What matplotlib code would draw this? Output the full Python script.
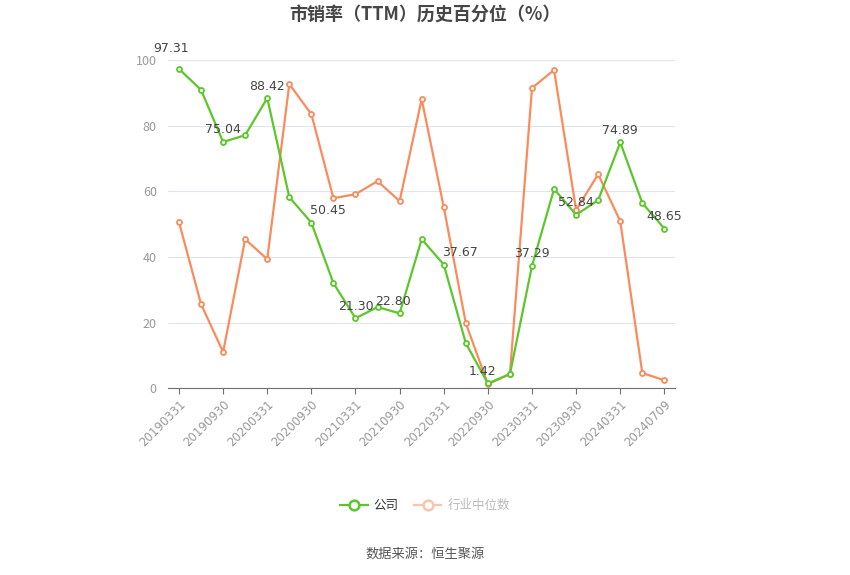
import numpy as np
import matplotlib
matplotlib.use("Agg")
import matplotlib.pyplot as plt
from matplotlib.lines import Line2D

plt.rcParams['font.family'] = ['Noto Sans CJK SC', 'DejaVu Sans']

# data
dates = ["20190331", "20190630", "20190930", "20191231", "20200331", "20200630",
         "20200930", "20201231", "20210331", "20210630", "20210930", "20211231",
         "20220331", "20220630", "20220930", "20221231", "20230331", "20230630",
         "20230930", "20231231", "20240331", "20240630", "20240709"]
company = [97.31, 90.9, 75.04, 77.1, 88.42, 58.2, 50.45, 32.0, 21.30, 24.7, 22.80,
           45.4, 37.67, 13.7, 1.42, 4.3, 37.29, 60.7, 52.84, 57.3, 74.89, 56.4, 48.65]
industry = [50.6, 25.6, 11.0, 45.4, 39.3, 92.7, 83.5, 57.9, 59.1, 63.1, 57.0, 88.1,
            55.2, 19.8, 1.2, 4.3, 91.5, 97.0, 54.3, 65.2, 50.9, 4.6, 2.4]
tick_idx = [0, 2, 4, 6, 8, 10, 12, 14, 16, 18, 20, 22]
label_idx = [0, 2, 4, 6, 8, 10, 12, 14, 16, 18, 20, 22]
# small label nudges (points) to mimic label placement in the original
label_dx = {0: -6, 6: 12, 10: -5, 12: 12, 14: -4}
label_dy = {0: 10}

green = '#5BC72B'
orange = '#FA8B5C'

fig = plt.figure(figsize=(8.5, 5.75), dpi=100)
ax = fig.add_axes([0.1976, 0.325, 0.597, 0.5705])

x = np.arange(len(dates))
ax.plot(x, industry, color=orange, lw=1.6, marker='o', markersize=3.6,
        markerfacecolor='white', markeredgewidth=1.3, zorder=3)
ax.plot(x, company, color=green, lw=1.6, marker='o', markersize=3.6,
        markerfacecolor='white', markeredgewidth=1.3, zorder=4)

for i in label_idx:
    ax.annotate(f"{company[i]:.2f}", (x[i], company[i]), textcoords="offset points",
                xytext=(label_dx.get(i, 0), label_dy.get(i, 4)), ha='center', va='bottom',
                fontsize=9, color='#444444', family=['DejaVu Sans'], zorder=6,
                annotation_clip=False)

ax.set_xlim(-0.5, len(dates) - 0.5)
ax.set_ylim(0, 100)
ax.set_yticks([0, 20, 40, 60, 80, 100])
ax.set_xticks(tick_idx)
ax.set_xticklabels([dates[i] for i in tick_idx], rotation=45, ha='right',
                   rotation_mode='anchor', fontsize=8.5, color='#999999',
                   family=['DejaVu Sans'])
ax.tick_params(axis='x', length=4, color='#6E7079', pad=3)
ax.tick_params(axis='y', length=0, labelsize=9, labelcolor='#999999', pad=8)
ax.grid(axis='y', color='#E0E6F1', lw=0.8)
ax.set_axisbelow(True)
for s in ['top', 'right', 'left']:
    ax.spines[s].set_visible(False)
ax.spines['bottom'].set_color('#6E7079')

fig.text(0.5, 0.973, "市销率（TTM）历史百分位（%）", ha='center', va='center',
         fontsize=13, fontweight='bold', color='#464646')

handles = [Line2D([], [], color=green, lw=1.6, marker='o', markersize=7,
                  markerfacecolor='white', markeredgewidth=1.8),
           Line2D([], [], color='#FCC4AC', lw=1.6, marker='o', markersize=7,
                  markerfacecolor='white', markeredgewidth=1.8)]
leg = fig.legend(handles, ["公司", "行业中位数"], loc='center', bbox_to_anchor=(0.5, 0.121),
                 ncol=2, frameon=False, fontsize=9, handlelength=2.2,
                 columnspacing=1.2, handletextpad=0.5)
leg.get_texts()[0].set_color('#333333')
leg.get_texts()[1].set_color('#BBBBBB')

fig.text(0.5, 0.036, "数据来源：恒生聚源", ha='center', va='center',
         fontsize=9.5, color='#555555')

fig.savefig("out.png", dpi=100)
